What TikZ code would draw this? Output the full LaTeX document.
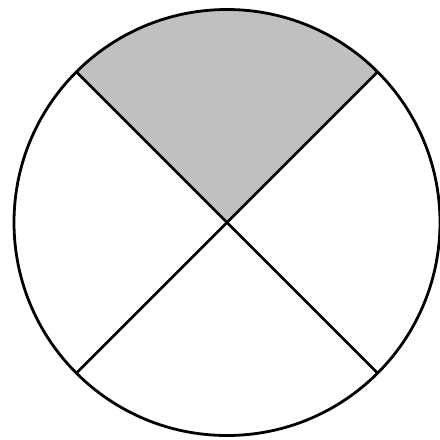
\documentclass[tikz,border=0pt]{standalone}
\definecolor{sector}{RGB}{192,192,192}
\begin{document}
\begin{tikzpicture}[x=1pt,y=-1pt,line width=2.8pt]
\useasboundingbox (0,0) rectangle (440,440);
\coordinate (c) at (227,222.5);
\path (c) ++(-135:213) coordinate (tl) (c) ++(-45:213) coordinate (tr)
      (c) ++(135:213) coordinate (bl) (c) ++(45:213) coordinate (br);
\fill[sector] (c) -- (tl) arc[start angle=-135,end angle=-45,radius=213] -- cycle;
\draw (c) circle[radius=213];
\draw (tl) -- (br);
\draw (tr) -- (bl);
\end{tikzpicture}
\end{document}
